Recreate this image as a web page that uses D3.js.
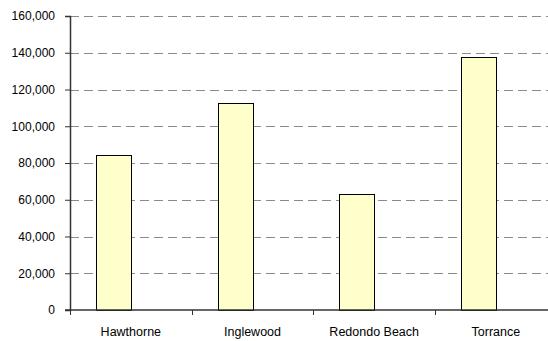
<!DOCTYPE html>
<html>
<head>
<meta charset="utf-8">
<script src="https://cdn.jsdelivr.net/npm/d3@7"></script>
<style>
  html, body { margin: 0; padding: 0; background: #fff; }
  svg { display: block; overflow: hidden; }
  text { font-family: "Liberation Sans", Arial, sans-serif; fill: #000; }
</style>
</head>
<body>
<svg id="chart" width="548" height="341"></svg>
<script>
const categories = ["Hawthorne", "Inglewood", "Redondo Beach", "Torrance"];
const population = [84112, 112580, 63261, 137946];
const seriesNames = ["Population", "(blank)"];
const yTicks = [0, 20000, 40000, 60000, 80000, 100000, 120000, 140000, 160000];

const svg = d3.select("#chart");
const plotLeft = 70, plotTop = 16, plotBottom = 310, plotRight = 556.7;

const y = d3.scaleLinear().domain([0, 160000]).range([plotBottom, plotTop]);
const xCat = d3.scaleBand().domain(categories).range([plotLeft, plotRight]).padding(0);
const xSer = d3.scaleBand().domain(seriesNames).range([0, xCat.bandwidth()])
  .paddingInner(0).paddingOuter(0.75);

// gridlines
svg.append("g").selectAll("line")
  .data(yTicks.filter(d => d > 0))
  .join("line")
  .attr("x1", plotLeft).attr("x2", 548)
  .attr("y1", d => Math.round(y(d)) + 0.5).attr("y2", d => Math.round(y(d)) + 0.5)
  .attr("stroke", "#8a8a8a").attr("stroke-width", 1)
  .attr("stroke-dasharray", "9,5");

// bars
svg.append("g").selectAll("rect")
  .data(categories.map((c, i) => ({ c, v: population[i] })))
  .join("rect")
  .attr("x", d => Math.round(xCat(d.c) + xSer("Population")) + 0.5)
  .attr("y", d => Math.round(y(d.v)) + 0.5)
  .attr("width", Math.round(xSer.bandwidth()))
  .attr("height", d => Math.round(y(0)) - Math.round(y(d.v)))
  .attr("fill", "#FFFFCC")
  .attr("stroke", "#000").attr("stroke-width", 1);

// y axis
const yAxis = svg.append("g")
  .attr("transform", `translate(${plotLeft},0)`)
  .call(d3.axisLeft(y).tickValues(yTicks).tickFormat(d3.format(",")).tickSize(5).tickPadding(10));
yAxis.select(".domain").attr("stroke", "#333").attr("stroke-width", 1.5);
yAxis.selectAll(".tick line").attr("stroke", "#333");
yAxis.selectAll(".tick text").attr("font-size", 12).attr("font-family", "Liberation Sans, Arial, sans-serif").attr("fill", "#000");

// x axis (labels at category centres)
const xAxis = svg.append("g")
  .attr("transform", `translate(0,${plotBottom})`)
  .call(d3.axisBottom(xCat).tickSize(0).tickPadding(0));
xAxis.select(".domain").remove();
xAxis.selectAll(".tick text")
  .attr("y", 25.5).attr("dy", 0)
  .attr("font-size", 12.5).attr("font-family", "Liberation Sans, Arial, sans-serif").attr("fill", "#000");

// x axis line and boundary ticks
svg.append("line")
  .attr("x1", plotLeft - 5).attr("x2", 548)
  .attr("y1", plotBottom).attr("y2", plotBottom)
  .attr("stroke", "#333").attr("stroke-width", 1.5);
const boundaries = categories.map(c => xCat(c)).concat([xCat.range()[1]]);
svg.append("g").selectAll("line")
  .data(boundaries)
  .join("line")
  .attr("x1", d => Math.round(d) + 0.5).attr("x2", d => Math.round(d) + 0.5)
  .attr("y1", plotBottom).attr("y2", plotBottom + 5)
  .attr("stroke", "#333").attr("stroke-width", 1);
</script>
</body>
</html>
